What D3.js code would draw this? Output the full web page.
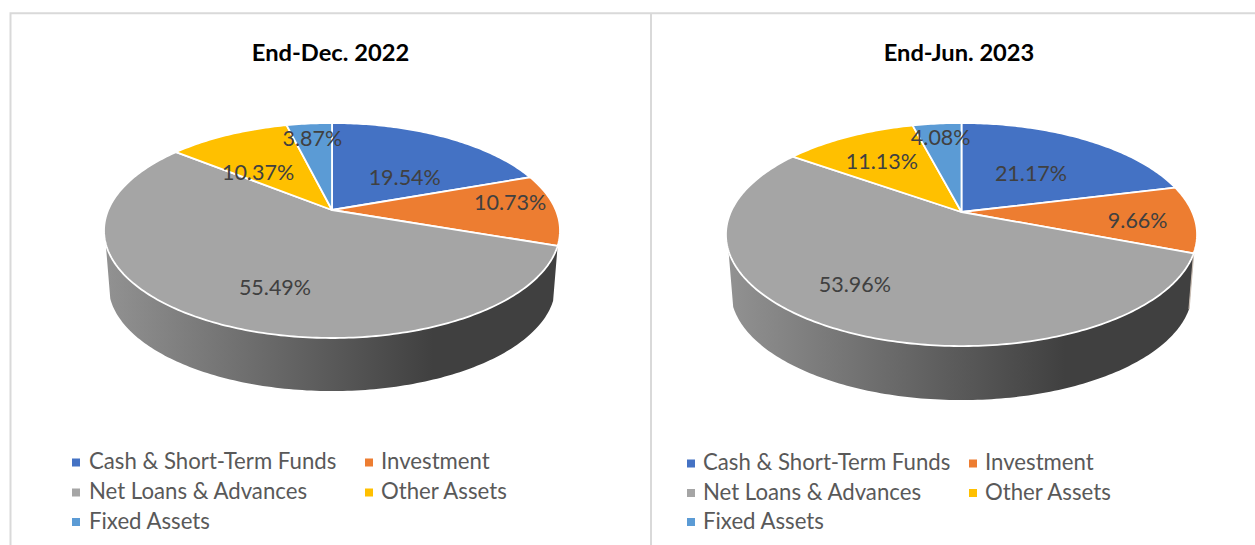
<!DOCTYPE html>
<html><head><meta charset="utf-8">
<script src="https://cdn.jsdelivr.net/npm/d3@7"></script>
<style>html,body{margin:0;background:#fff}svg{display:block}text{font-family:Lato,"Open Sans",sans-serif}</style>
</head><body><svg id="c" width="1255" height="545"></svg>
<script>
const categories=["Cash & Short-Term Funds","Investment","Net Loans & Advances","Other Assets","Fixed Assets"];
const colors=["#4472c4","#ed7d31","#a5a5a5","#ffc000","#5b9bd5"];
const titles=["End-Dec. 2022","End-Jun. 2023"];
const valuesDec=[19.54,10.73,55.49,10.37,3.87];
const valuesJun=[21.17,9.66,53.96,11.13,4.08];

// layout only
const layouts=[
 {cx:332,cy:210,P:223.8,Q:103.6,k:.1907,cy2:265.6,values:valuesDec,titleX:330.5,
  nudge:[[2,13.5],[44,-7],[15,16.5],[-8,10],[-5,-16.5]],
  lgMark:[72,365],lgText:[89,381],lgRows:[462.5,492.5,522],sliver:false},
 {cx:961.5,cy:212,P:230.7,Q:107,k:.2019,cy2:268.7,values:valuesJun,titleX:959,
  nudge:[[-8.5,7],[37,4],[-33.5,8.6],[-8,-3],[-5,-18]],
  lgMark:[687,969],lgText:[703,985],lgRows:[463.5,493,522],sliver:true}
];
const svg=d3.select("#c");
const defs=svg.append("defs");
// panel frames
const frame=svg.append("g").attr("stroke","#d9d9d9").attr("stroke-width",2).attr("fill","none");
frame.append("path").attr("d","M10.5,545V13.3H1255");
frame.append("path").attr("d","M651,13.3V545");

layouts.forEach((L,i)=>{
  const g=svg.append("g");
  const sx=d3.scaleLinear().domain([-1,1]).range([L.cx-L.P,L.cx+L.P]);
  const sy=d3.scaleLinear().domain([-1,1]).range([L.cy-L.Q,L.cy+L.Q]);
  const proj=(th,r=1,s=1,c=L.cy)=>{
    const u=r*Math.sin(th),v=-r*Math.cos(th),w=1-L.k*v;
    return [L.cx+(sx(u/w)-L.cx)*s, c+(sy(v/w)-L.cy)*s];
  };
  const pie=d3.pie().sort(null).value(d=>d)(L.values);
  const line=d3.line();
  const arcPts=(a,b,s,c)=>{const n=Math.max(4,Math.ceil((b-a)*60));
    return d3.range(n+1).map(j=>proj(a+(b-a)*j/n,1,s,c));};

  // side wall
  const gid="wall"+i;
  const grad=defs.append("linearGradient").attr("id",gid).attr("gradientUnits","userSpaceOnUse")
    .attr("x1",L.cx-L.P).attr("x2",L.cx+L.P*.45).attr("y1",0).attr("y2",0);
  grad.append("stop").attr("offset",0).attr("stop-color","#919191");
  grad.append("stop").attr("offset",1).attr("stop-color","#404040");
  const gray=pie[2];
  const wallStart=gray.startAngle, wallEnd=Math.min(gray.endAngle,Math.PI*2-gray.startAngle+.02);
  const wallPts=arcPts(wallStart,wallEnd,1,L.cy).concat(arcPts(wallStart,wallEnd,.98,L.cy2).reverse());
  g.append("path").attr("d",line(wallPts)+"Z").attr("fill",`url(#${gid})`);
  if(L.sliver){
    g.append("path").attr("d",line([proj(wallStart,1,1,L.cy),proj(wallStart,1,.98,L.cy2)]))
      .attr("stroke","#c9bdb3").attr("stroke-width",1.2).attr("fill","none");
  }
  // top slices
  pie.forEach((d,j)=>{
    const pts=[proj(0,0)].concat(arcPts(d.startAngle,d.endAngle,1,L.cy));
    g.append("path").attr("d",line(pts)+"Z").attr("fill",colors[j])
      .attr("stroke","#fff").attr("stroke-width",1.8).attr("stroke-linejoin","round");
  });
  // value labels
  pie.forEach((d,j)=>{
    const [x,y]=proj((d.startAngle+d.endAngle)/2,.6);
    g.append("text").attr("x",x+L.nudge[j][0]).attr("y",y+L.nudge[j][1])
      .attr("dy","0.36em").attr("text-anchor","middle").attr("font-size",21.5).attr("fill","#404040")
      .text(L.values[j].toFixed(2)+"%");
  });
  // title
  g.append("text").attr("x",L.titleX).attr("y",52).attr("dy","0.36em").attr("text-anchor","middle")
    .attr("font-size",23.7).attr("font-weight",700).attr("fill","#000").text(titles[i]);
  // legend
  categories.forEach((c,j)=>{
    const col=j%2,row=Math.floor(j/2),y=L.lgRows[row];
    g.append("rect").attr("x",L.lgMark[col]).attr("y",y-4).attr("width",8).attr("height",8).attr("fill",colors[j]);
    g.append("text").attr("x",L.lgText[col]).attr("y",y-1).attr("dy","0.36em").attr("font-size",22.2)
      .attr("fill","#595959").text(c);
  });
});
</script></body></html>
